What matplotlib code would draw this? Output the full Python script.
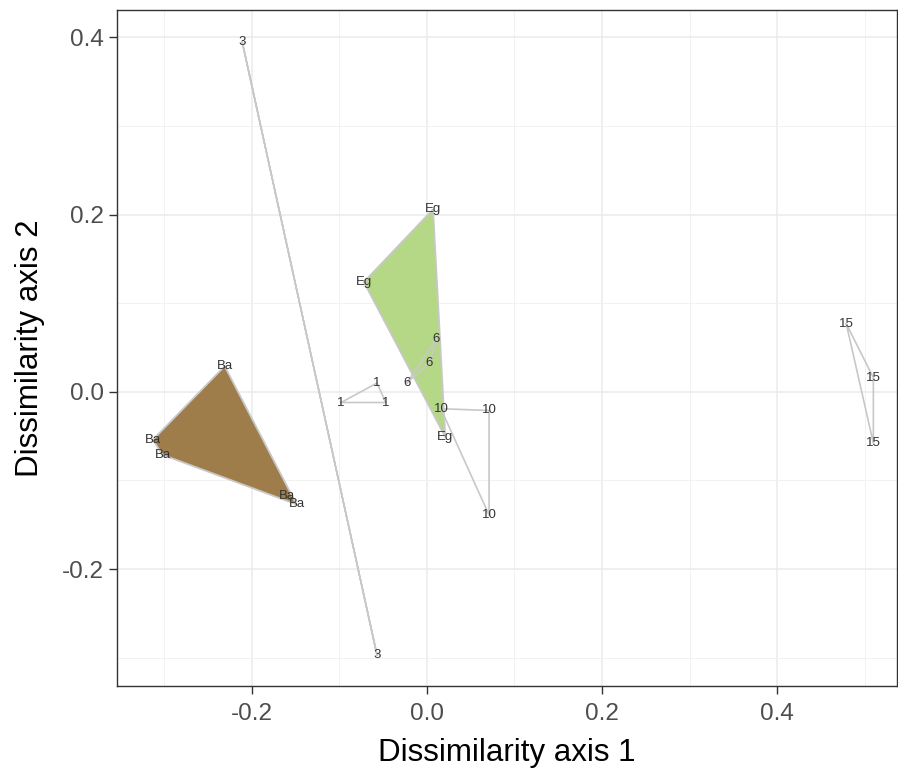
import numpy as np
import matplotlib.pyplot as plt

plt.rcParams['font.family'] = ['Liberation Sans', 'DejaVu Sans']

# site scores on the two dissimilarity axes, grouped by label
groups = ['3', 'Ba', 'Eg', '6', '1', '10', '15']
axis1 = {
    '3':  [-0.211, -0.057],
    'Ba': [-0.231, -0.313, -0.302, -0.160, -0.149],
    'Eg': [0.007, -0.072, 0.021],
    '6':  [0.011, 0.003, -0.023],
    '1':  [-0.057, -0.098, -0.047],
    '10': [0.016, 0.071, 0.071],
    '15': [0.479, 0.510, 0.510],
}
axis2 = {
    '3':  [0.395, -0.297],
    'Ba': [0.029, -0.054, -0.071, -0.117, -0.127],
    'Eg': [0.206, 0.124, -0.051],
    '6':  [0.060, 0.033, 0.010],
    '1':  [0.010, -0.012, -0.012],
    '10': [-0.019, -0.021, -0.139],
    '15': [0.077, 0.016, -0.058],
}
fills = {'Ba': '#9e7d4a', 'Eg': '#b5d886'}


def hull(px, py):
    pts = sorted(set(zip(px, py)))
    if len(pts) < 3:
        return pts

    def cross(o, a, b):
        return (a[0] - o[0]) * (b[1] - o[1]) - (a[1] - o[1]) * (b[0] - o[0])

    lower, upper = [], []
    for p in pts:
        while len(lower) >= 2 and cross(lower[-2], lower[-1], p) <= 0:
            lower.pop()
        lower.append(p)
    for p in reversed(pts):
        while len(upper) >= 2 and cross(upper[-2], upper[-1], p) <= 0:
            upper.pop()
        upper.append(p)
    return lower[:-1] + upper[:-1]


fig = plt.figure(figsize=(8.98, 7.77), dpi=100)
ax = fig.add_axes([0.1303, 0.1171, 0.8686, 0.870])

for g in groups:
    h = np.array(hull(axis1[g], axis2[g]))
    if g in fills:
        ax.fill(h[:, 0], h[:, 1], facecolor=fills[g], edgecolor='#c8c8c8', lw=1.3, zorder=2)
    else:
        hx = np.append(h[:, 0], h[0, 0])
        hy = np.append(h[:, 1], h[0, 1])
        ax.plot(hx, hy, color='#c8c8c8', lw=1.2, zorder=2)

for g in groups:
    for x, y in zip(axis1[g], axis2[g]):
        ax.text(x, y, g, fontsize=9.5, color='#333333', ha='center', va='center', zorder=3)

ax.set_xlim(-0.354, 0.537)
ax.set_ylim(-0.332, 0.431)
ax.set_xticks([-0.2, 0.0, 0.2, 0.4])
ax.set_xticklabels(['-0.2', '0.0', '0.2', '0.4'])
ax.set_yticks([-0.2, 0.0, 0.2, 0.4])
ax.set_yticklabels(['-0.2', '0.0', '0.2', '0.4'])
ax.set_xticks([-0.3, -0.1, 0.1, 0.3, 0.5], minor=True)
ax.set_yticks([-0.3, -0.1, 0.1, 0.3], minor=True)
ax.grid(which='major', color='#ebebeb', lw=1.1, zorder=0)
ax.grid(which='minor', color='#f2f2f2', lw=0.7, zorder=0)
ax.set_axisbelow(True)
ax.tick_params(which='major', length=5.5, width=1, color='#333333', labelsize=17.5,
               labelcolor='#4d4d4d', pad=4)
ax.tick_params(axis='x', which='major', pad=7)
ax.tick_params(which='minor', length=0)
for s in ax.spines.values():
    s.set_color('#333333')
    s.set_linewidth(1)

ax.set_xlabel('Dissimilarity axis 1', fontsize=22.5, color='black', labelpad=9)
ax.set_ylabel('Dissimilarity axis 2', fontsize=22.5, color='black', labelpad=12)

fig.savefig('out.png', dpi=100)
